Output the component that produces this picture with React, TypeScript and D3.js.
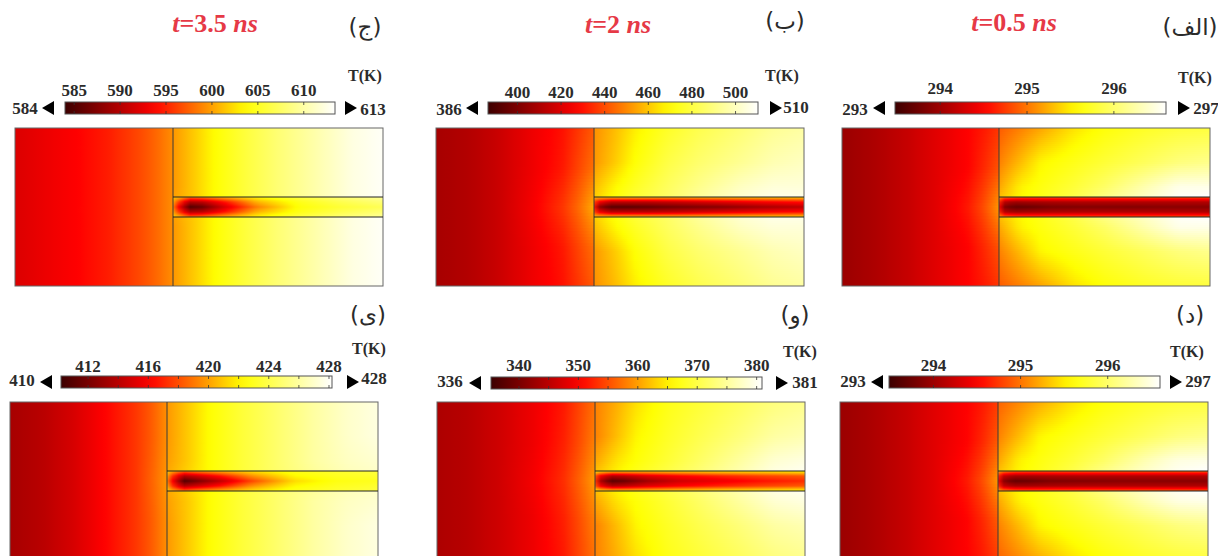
import React from "react";
import * as d3 from "d3";

// ---- Colour-bar tick values and end labels ----
const ticksC = [585, 590, 595, 600, 605, 610];
const ticksB = [400, 420, 440, 460, 480, 500];
const ticksA = [294, 295, 296];
const ticksY = [412, 416, 420, 424, 428];
const ticksV = [340, 350, 360, 370, 380];
const ticksD = [294, 295, 296];
const minorV = [340, 345, 350, 355, 360, 365, 370, 375, 380];
const minorY = [412, 414, 416, 418, 420, 422, 424, 426, 428];
const titles = ["t=3.5 ns", "t=2 ns", "t=0.5 ns"];
const panelLabels = ["(ج)", "(ب)", "(الف)", "(ی)", "(و)", "(د)"];

// ---- Temperature field, as position on the colour scale (0..1) ----
const leftCols = [0, 0.2, 0.4, 0.6, 0.8, 0.9, 1];
const leftRows = [0, 0.5, 1];
const rightCols = [0, 0.1, 0.2, 0.35, 0.5, 0.7, 0.85, 1];
const rightRows = [0, 0.5, 0.85, 1];
const chanCols = [0, 0.03, 0.08, 0.14, 0.25, 0.4, 0.6, 0.8, 1];
const chanRows = [0, 0.5, 1];

const leftC = [[0.27, 0.3, 0.33, 0.37, 0.43, 0.47, 0.52], [0.27, 0.3, 0.33, 0.37, 0.43, 0.47, 0.52], [0.27, 0.3, 0.33, 0.37, 0.43, 0.47, 0.52]];
const rightC = [[0.53, 0.6, 0.67, 0.75, 0.82, 0.9, 0.96, 0.99], [0.53, 0.6, 0.67, 0.75, 0.82, 0.9, 0.96, 0.99], [0.53, 0.6, 0.67, 0.75, 0.82, 0.9, 0.96, 0.99], [0.54, 0.6, 0.67, 0.75, 0.82, 0.9, 0.96, 0.99]];
const chanC = [[0.6, 0.58, 0.48, 0.5, 0.57, 0.66, 0.75, 0.82, 0.87], [0.55, 0.4, 0.2, 0.22, 0.36, 0.57, 0.7, 0.77, 0.82], [0.5, 0.3, 0.04, 0.08, 0.27, 0.5, 0.68, 0.74, 0.78]];

const leftB = [[0.18, 0.2, 0.24, 0.3, 0.35, 0.4, 0.45], [0.18, 0.2, 0.24, 0.3, 0.36, 0.42, 0.48], [0.18, 0.2, 0.24, 0.31, 0.4, 0.47, 0.56]];
const rightB = [[0.52, 0.58, 0.65, 0.72, 0.77, 0.82, 0.86, 0.88], [0.53, 0.6, 0.68, 0.76, 0.81, 0.86, 0.9, 0.92], [0.58, 0.66, 0.72, 0.79, 0.85, 0.92, 0.95, 0.95], [0.6, 0.68, 0.74, 0.8, 0.87, 0.94, 0.97, 0.97]];
const chanB = [[0.58, 0.58, 0.58, 0.58, 0.58, 0.58, 0.59, 0.6, 0.61], [0.42, 0.3, 0.22, 0.22, 0.22, 0.24, 0.28, 0.32, 0.35], [0.35, 0.12, 0.05, 0.05, 0.07, 0.1, 0.13, 0.18, 0.22]];

const leftA = [[0.16, 0.19, 0.23, 0.28, 0.33, 0.36, 0.4], [0.16, 0.19, 0.23, 0.28, 0.33, 0.38, 0.44], [0.16, 0.19, 0.23, 0.28, 0.36, 0.43, 0.53]];
const rightA = [[0.45, 0.5, 0.55, 0.63, 0.68, 0.72, 0.74, 0.75], [0.5, 0.58, 0.66, 0.7, 0.74, 0.79, 0.83, 0.85], [0.55, 0.65, 0.69, 0.74, 0.8, 0.9, 0.97, 0.97], [0.58, 0.66, 0.7, 0.76, 0.84, 0.93, 0.99, 1]];
const chanA = [[0.52, 0.47, 0.45, 0.44, 0.44, 0.44, 0.44, 0.44, 0.44], [0.38, 0.2, 0.17, 0.18, 0.19, 0.2, 0.2, 0.2, 0.2], [0.32, 0.1, 0.07, 0.08, 0.11, 0.12, 0.12, 0.13, 0.13]];

const leftY = [[0.18, 0.21, 0.26, 0.33, 0.4, 0.45, 0.52], [0.18, 0.21, 0.26, 0.33, 0.4, 0.45, 0.52], [0.18, 0.21, 0.26, 0.33, 0.4, 0.46, 0.53]];
const rightY = [[0.53, 0.6, 0.67, 0.74, 0.8, 0.88, 0.93, 0.96], [0.53, 0.6, 0.67, 0.74, 0.8, 0.88, 0.93, 0.96], [0.54, 0.6, 0.67, 0.74, 0.8, 0.88, 0.92, 0.94], [0.55, 0.61, 0.67, 0.74, 0.8, 0.87, 0.91, 0.93]];
const chanY = [[0.6, 0.55, 0.48, 0.52, 0.57, 0.63, 0.7, 0.73, 0.75], [0.55, 0.38, 0.2, 0.25, 0.35, 0.52, 0.66, 0.71, 0.73], [0.5, 0.3, 0.04, 0.1, 0.22, 0.42, 0.62, 0.69, 0.71]];

const leftV = [[0.19, 0.21, 0.25, 0.3, 0.36, 0.42, 0.48], [0.19, 0.21, 0.25, 0.3, 0.37, 0.43, 0.5], [0.19, 0.21, 0.25, 0.31, 0.39, 0.46, 0.54]];
const rightV = [[0.5, 0.56, 0.63, 0.7, 0.74, 0.79, 0.83, 0.85], [0.5, 0.58, 0.66, 0.72, 0.77, 0.83, 0.88, 0.9], [0.55, 0.63, 0.68, 0.74, 0.8, 0.88, 0.94, 0.96], [0.58, 0.65, 0.7, 0.76, 0.82, 0.9, 0.96, 0.98]];
const chanV = [[0.64, 0.62, 0.6, 0.6, 0.6, 0.62, 0.64, 0.65, 0.67], [0.45, 0.3, 0.2, 0.22, 0.28, 0.33, 0.38, 0.42, 0.45], [0.4, 0.17, 0.05, 0.08, 0.17, 0.25, 0.3, 0.35, 0.39]];

const leftD = [[0.16, 0.19, 0.23, 0.28, 0.33, 0.36, 0.41], [0.16, 0.19, 0.23, 0.28, 0.33, 0.38, 0.45], [0.16, 0.19, 0.23, 0.28, 0.36, 0.43, 0.53]];
const rightD = [[0.46, 0.51, 0.56, 0.63, 0.68, 0.72, 0.74, 0.75], [0.5, 0.58, 0.66, 0.7, 0.74, 0.79, 0.83, 0.85], [0.55, 0.65, 0.69, 0.74, 0.8, 0.9, 0.96, 0.97], [0.58, 0.66, 0.7, 0.76, 0.84, 0.93, 0.98, 1]];
const chanD = [[0.55, 0.5, 0.47, 0.46, 0.46, 0.46, 0.46, 0.46, 0.46], [0.38, 0.22, 0.18, 0.18, 0.19, 0.2, 0.2, 0.2, 0.2], [0.33, 0.12, 0.07, 0.08, 0.11, 0.12, 0.13, 0.13, 0.13]];

// ---- Colour map ----
const heat = d3.scaleLinear<string>()
  .domain([0, 0.33, 0.67, 1])
  .range(["#3c0000", "#ff0000", "#ffff00", "#ffffff"])
  .clamp(true);

// ---- Layout ----
const W = 1218, H = 556;
const serif = "'Liberation Serif', serif";
const ink = "#2b2b2b";

type Panel = {
  id: string; px: number; py: number; divider: number;
  bar: [number, number, number]; domain: [number, number];
  ticks: number[]; minor?: number[]; minL: string; maxL: string;
  minX: number; minY: number; triL: number; triR: number; maxX: number; maxY: number;
  labelY: number; tk: [number, number]; pl: string; plX: number; plY: number;
  left: number[][]; right: number[][]; chan: number[][];
};

const PW = 368, PH = 158, CT = 69, CH = 20;

const panels: Panel[] = [
  { id: "c", px: 15, py: 128, divider: 173, bar: [65, 335, 102], domain: [584, 613.4], ticks: ticksC, minL: "584", maxL: "613", minX: 25, minY: 114, triL: 42, triR: 345, maxX: 373, maxY: 115, labelY: 96, tk: [365, 81], pl: panelLabels[0], plX: 365, plY: 35, left: leftC, right: rightC, chan: chanC },
  { id: "b", px: 436, py: 128, divider: 594, bar: [488, 758, 102], domain: [386.5, 510.3], ticks: ticksB, minL: "386", maxL: "510", minX: 449, minY: 115, triL: 466, triR: 770, maxX: 796, maxY: 113, labelY: 98, tk: [782, 81], pl: panelLabels[1], plX: 785, plY: 29, left: leftB, right: rightB, chan: chanB },
  { id: "a", px: 842, py: 128, divider: 999, bar: [895, 1166, 102], domain: [293.48, 296.6], ticks: ticksA, minL: "293", maxL: "297", minX: 855, minY: 115, triL: 873, triR: 1178, maxX: 1206, maxY: 114, labelY: 94, tk: [1195, 83], pl: panelLabels[2], plX: 1190, plY: 35, left: leftA, right: rightA, chan: chanA },
  { id: "y", px: 10, py: 402, divider: 167, bar: [61, 332, 376], domain: [410.2, 428.2], ticks: ticksY, minor: minorY, minL: "410", maxL: "428", minX: 22, minY: 386, triL: 40, triR: 347, maxX: 374, maxY: 384, labelY: 372, tk: [369, 354], pl: panelLabels[3], plX: 368, plY: 323, left: leftY, right: rightY, chan: chanY },
  { id: "v", px: 437, py: 402, divider: 595, bar: [491, 762, 377], domain: [335.3, 380.9], ticks: ticksV, minor: minorV, minL: "336", maxL: "381", minX: 450, minY: 387, triL: 469, triR: 776, maxX: 805, maxY: 388, labelY: 371, tk: [800, 357], pl: panelLabels[4], plX: 795, plY: 323, left: leftV, right: rightV, chan: chanV },
  { id: "d", px: 840, py: 402, divider: 998, bar: [889, 1160, 376], domain: [293.49, 296.6], ticks: ticksD, minL: "293", maxL: "297", minX: 853, minY: 387, triL: 871, triR: 1170, maxX: 1198, maxY: 387, labelY: 371, tk: [1187, 357], pl: panelLabels[5], plX: 1190, plY: 323, left: leftD, right: rightD, chan: chanD },
];

const titleSpots = [
  { x: 215, y: 32 },
  { x: 618, y: 33 },
  { x: 1014, y: 31 },
];

function profile(rows: number[], grid: number[][], v: number): number[] {
  const n = grid[0].length;
  return d3.range(n).map((c) =>
    d3.scaleLinear().domain(rows).range(grid.map((r) => r[c])).clamp(true)(v)
  );
}

function Strip({ id, x, y, w, h, cols, values }: { id: string; x: number; y: number; w: number; h: number; cols: number[]; values: number[] }) {
  const s = d3.scaleLinear().domain(cols).range(values);
  const offs = d3.range(0, 1.0001, 1 / 36);
  return (
    <>
      <linearGradient id={id}>
        {offs.map((o) => <stop key={o} offset={o} stopColor={heat(s(o))} />)}
      </linearGradient>
      <rect x={x} y={y} width={w} height={h} fill={`url(#${id})`} shapeRendering="crispEdges" />
    </>
  );
}

function Region({ id, x, y, w, h, cols, rows, grid, flip, step }: { id: string; x: number; y: number; w: number; h: number; cols: number[]; rows: number[]; grid: number[][]; flip: boolean; step: number }) {
  const ys = d3.range(0, h, step);
  return (
    <g>
      {ys.map((dy) => {
        const frac = (dy + step / 2) / h;
        const v = flip ? 1 - frac : frac;
        return <Strip key={dy} id={`${id}-${dy}`} x={x} y={y + dy} w={w} h={Math.min(step, h - dy)} cols={cols} values={profile(rows, grid, v)} />;
      })}
    </g>
  );
}

function Field({ p }: { p: Panel }) {
  const x0 = p.px, x1 = p.px + PW, xd = p.divider, y0 = p.py;
  const mid = PH / 2;
  const chTop = y0 + CT, chBot = chTop + CH;
  return (
    <g>
      <Region id={`${p.id}l1`} x={x0} y={y0} w={xd - x0} h={mid} cols={leftCols} rows={leftRows} grid={p.left} flip={false} step={3} />
      <Region id={`${p.id}l2`} x={x0} y={y0 + mid} w={xd - x0} h={mid} cols={leftCols} rows={leftRows} grid={p.left} flip={true} step={3} />
      <Region id={`${p.id}r1`} x={xd} y={y0} w={x1 - xd} h={CT} cols={rightCols} rows={rightRows} grid={p.right} flip={false} step={2} />
      <Region id={`${p.id}r2`} x={xd} y={chBot} w={x1 - xd} h={PH - CT - CH} cols={rightCols} rows={rightRows} grid={p.right} flip={true} step={2} />
      <Region id={`${p.id}c1`} x={xd} y={chTop} w={x1 - xd} h={CH / 2} cols={chanCols} rows={chanRows} grid={p.chan} flip={false} step={1} />
      <Region id={`${p.id}c2`} x={xd} y={chTop + CH / 2} w={x1 - xd} h={CH / 2} cols={chanCols} rows={chanRows} grid={p.chan} flip={true} step={1} />
      <rect x={x0} y={y0} width={PW} height={PH} fill="none" stroke="#666" strokeWidth={1} />
      <line x1={xd} x2={xd} y1={y0} y2={y0 + PH} stroke="#3a3a3a" strokeWidth={1} />
      <line x1={xd} x2={x1} y1={chTop} y2={chTop} stroke="#222" strokeWidth={1} />
      <line x1={xd} x2={x1} y1={chBot} y2={chBot} stroke="#222" strokeWidth={1} />
    </g>
  );
}

function ColorBar({ p }: { p: Panel }) {
  const [bx0, bx1, by] = p.bar;
  const bh = 12;
  const x = d3.scaleLinear().domain(p.domain).range([bx0, bx1]);
  const marks = p.minor ?? p.ticks;
  const cy = by + bh / 2;
  return (
    <g>
      <linearGradient id={`bar-${p.id}`}>
        {d3.range(0, 1.0001, 0.05).map((o) => <stop key={o} offset={o} stopColor={heat(o)} />)}
      </linearGradient>
      <rect x={bx0} y={by} width={bx1 - bx0} height={bh} fill={`url(#bar-${p.id})`} stroke="#555" strokeWidth={1} />
      {marks.map((t) => (
        <g key={t} stroke="#333" strokeWidth={0.8}>
          <line x1={x(t)} x2={x(t)} y1={by} y2={by + 3} />
          <line x1={x(t)} x2={x(t)} y1={by + bh - 3} y2={by + bh} />
        </g>
      ))}
      {p.ticks.map((t) => (
        <text key={t} x={x(t)} y={p.labelY} textAnchor="middle" fontFamily={serif} fontWeight={700} fontSize={17} fill={ink}>{t}</text>
      ))}
      <path d={`M${p.triL},${cy} L${p.triL + 12},${cy - 7} L${p.triL + 12},${cy + 7} Z`} fill="#000" />
      <path d={`M${p.triR + 12},${cy} L${p.triR},${cy - 7} L${p.triR},${cy + 7} Z`} fill="#000" />
      <text x={p.minX} y={p.minY} textAnchor="middle" fontFamily={serif} fontWeight={700} fontSize={17} fill={ink}>{p.minL}</text>
      <text x={p.maxX} y={p.maxY} textAnchor="middle" fontFamily={serif} fontWeight={700} fontSize={17} fill={ink}>{p.maxL}</text>
      <text x={p.tk[0]} y={p.tk[1]} textAnchor="middle" fontFamily={serif} fontWeight={700} fontSize={16} fill={ink}>T(K)</text>
      <text x={p.plX} y={p.plY} textAnchor="middle" fontFamily="'DejaVu Sans', sans-serif" fontSize={23} fill={ink}>{p.pl}</text>
    </g>
  );
}

export default function App() {
  return (
    <svg width={W} height={H} viewBox={`0 0 ${W} ${H}`} style={{ position: "absolute", left: 0, top: 0, background: "#fff", display: "block" }}>
      {titles.map((t, i) => {
        const [a, b] = t.split("=");
        const [num, unit] = b.split(" ");
        return (
          <text key={t} x={titleSpots[i].x} y={titleSpots[i].y} textAnchor="middle" fontFamily={serif} fontWeight={700} fontSize={26} fill="#e63946">
            <tspan fontStyle="italic">{a}</tspan>={num} <tspan fontStyle="italic">{unit}</tspan>
          </text>
        );
      })}
      {panels.map((p) => (
        <g key={p.id}>
          <ColorBar p={p} />
          <Field p={p} />
        </g>
      ))}
    </svg>
  );
}
